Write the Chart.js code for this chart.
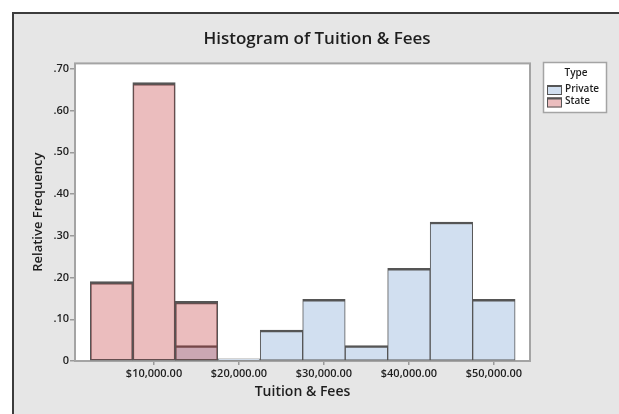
<!DOCTYPE html>
<html>
<head>
<meta charset="utf-8">
<script src="https://cdn.jsdelivr.net/npm/chart.js@4.4.1/dist/chart.umd.min.js"></script>
<style>
  body { margin: 0; background: #fff; }
  #frame {
    position: absolute; left: 12px; top: 12px; width: 607px; height: 402px;
    box-sizing: border-box; background: #e6e6e6;
    border-top: 2px solid #3c3c3c; border-left: 2px solid #3c3c3c;
  }
  #myChart { position: absolute; left: 0; top: 0; }
</style>
</head>
<body>
<div id="frame"></div>
<canvas id="myChart" width="619" height="414"></canvas>
<script>
// Centros de clase (ancho 5000) y frecuencias relativas
const centrosClase = [5000, 10000, 15000, 20000, 25000, 30000, 35000, 40000, 45000, 50000];
const frecPrivada = [0, 0, 0.037, 0.005, 0.074, 0.148, 0.037, 0.222, 0.333, 0.148];
const frecEstatal = [0.19, 0.667, 0.143, 0, 0, 0, 0, 0, 0, 0];
const ticksX = [10000, 20000, 30000, 40000, 50000];
const ticksY = [0, 0.1, 0.2, 0.3, 0.4, 0.5, 0.6, 0.7];
const etiquetasSerie = ['Private', 'State'];
const tituloLeyenda = 'Type';

const FUENTE = "'Open Sans', sans-serif";
const colorPrivada = 'rgb(209, 223, 240)';
const colorEstatal = 'rgba(189, 42, 45, 0.31)';
const colorBorde = '#555555';

const ctx = document.getElementById('myChart').getContext('2d');

const bordeBarra = { top: 2.5, left: 1, right: 1, bottom: 1 };

// Fondo blanco del area, marco gris y leyenda con caja
const marcoPlugin = {
    id: 'marco',
    beforeDraw(chart) {
        const a = chart.chartArea;
        const c = chart.ctx;
        c.save();
        c.fillStyle = '#ffffff';
        c.fillRect(a.left, a.top, a.right - a.left, a.bottom - a.top);
        c.restore();
    },
    beforeDatasetsDraw(chart) {
        const a = chart.chartArea;
        const c = chart.ctx;
        c.save();
        c.strokeStyle = '#a4a4a4';
        c.lineWidth = 2;
        c.strokeRect(a.left, a.top, a.right - a.left, a.bottom - a.top);
        c.restore();
    },
    afterDraw(chart) {
        const c = chart.ctx;
        const x0 = 543.5, y0 = 62.5, w = 63, h = 50;
        c.save();
        c.fillStyle = '#ffffff';
        c.fillRect(x0, y0, w, h);
        c.strokeStyle = '#a4a4a4';
        c.lineWidth = 1.5;
        c.strokeRect(x0, y0, w, h);

        c.fillStyle = '#1e1e1e';
        c.font = '600 10px ' + FUENTE;
        c.textAlign = 'center';
        c.textBaseline = 'middle';
        c.fillText(tituloLeyenda, 576, 73);

        const colores = [colorPrivada, colorEstatal];
        const ys = [85, 97.5];
        c.textAlign = 'left';
        etiquetasSerie.forEach((txt, i) => {
            const sy = ys[i];
            c.fillStyle = '#ffffff';
            c.fillRect(547, sy, 15, 10);
            c.fillStyle = colores[i];
            c.fillRect(547, sy, 15, 10);
            c.strokeStyle = colorBorde;
            c.lineWidth = 1;
            c.strokeRect(547.5, sy + 0.5, 14, 9);
            c.fillStyle = colorBorde;
            c.fillRect(547, sy, 15, 2);
            c.fillStyle = '#1e1e1e';
            c.fillText(txt, 565, sy + 4);
        });
        c.restore();
    }
};

const formatoDolar = (v) => '$' + Number(v).toLocaleString('en-US', { minimumFractionDigits: 2, maximumFractionDigits: 2 });
const formatoFrec = (v) => {
    const r = Math.round(v * 100) / 100;
    return r === 0 ? '0' : r.toFixed(2).replace(/^0/, '');
};

const chart = new Chart(ctx, {
    type: 'bar',
    data: {
        datasets: [{
            label: etiquetasSerie[0],
            data: centrosClase.map((x, i) => ({ x: x, y: frecPrivada[i] })),
            backgroundColor: colorPrivada,
            borderColor: colorBorde,
            borderWidth: bordeBarra,
            borderSkipped: false,
            order: 1
        }, {
            label: etiquetasSerie[1],
            data: centrosClase.map((x, i) => ({ x: x, y: frecEstatal[i] })),
            backgroundColor: colorEstatal,
            borderColor: colorBorde,
            borderWidth: bordeBarra,
            borderSkipped: false,
            order: 0
        }]
    },
    options: {
        responsive: false,
        animation: false,
        grouped: false,
        barPercentage: 1,
        categoryPercentage: 1,
        layout: { padding: { top: 12, left: 15, right: 0, bottom: 0 } },
        scales: {
            x: {
                type: 'linear',
                offset: false,
                min: 700,
                max: 54250,
                grid: { display: true, offset: false, drawOnChartArea: false, drawTicks: true, tickLength: 4, color: '#9a9a9a', lineWidth: 1.5 },
                border: { display: false },
                afterBuildTicks: (s) => { s.ticks = ticksX.map(v => ({ value: v })); },
                ticks: {
                    maxRotation: 0,
                    autoSkip: false,
                    padding: 2,
                    color: '#1e1e1e',
                    font: { family: FUENTE, size: 11, weight: '600' },
                    callback: formatoDolar
                },
                title: {
                    display: true,
                    text: 'Tuition & Fees',
                    color: '#1e1e1e',
                    font: { family: FUENTE, size: 14, weight: '600' },
                    padding: { top: 0, bottom: 14 }
                },
                afterFit: (s) => { s.height = 53; }
            },
            y: {
                min: 0,
                max: 0.713,
                grid: { display: true, drawOnChartArea: false, drawTicks: true, tickLength: 5, color: '#9a9a9a', lineWidth: 1.5 },
                border: { display: false },
                afterBuildTicks: (s) => { s.ticks = ticksY.map(v => ({ value: v })); },
                ticks: {
                    padding: 1,
                    color: '#1e1e1e',
                    font: { family: FUENTE, size: 11, weight: '600' },
                    callback: formatoFrec
                },
                title: {
                    display: true,
                    text: 'Relative Frequency',
                    color: '#1e1e1e',
                    font: { family: FUENTE, size: 13, weight: '600' },
                    padding: { top: 15, bottom: 0 }
                },
                afterFit: (s) => { s.width = 60; }
            },
            espacio: {
                type: 'linear',
                position: 'right',
                display: true,
                grid: { display: false },
                border: { display: false },
                ticks: { display: false },
                afterFit: (s) => { s.width = 89; }
            }
        },
        plugins: {
            legend: { display: false },
            tooltip: { enabled: false },
            title: {
                display: true,
                text: 'Histogram of Tuition & Fees',
                color: '#1e1e1e',
                font: { family: FUENTE, size: 17, weight: '600' },
                padding: { top: 17, bottom: 14 }
            }
        }
    },
    plugins: [marcoPlugin]
});
</script>
</body>
</html>
